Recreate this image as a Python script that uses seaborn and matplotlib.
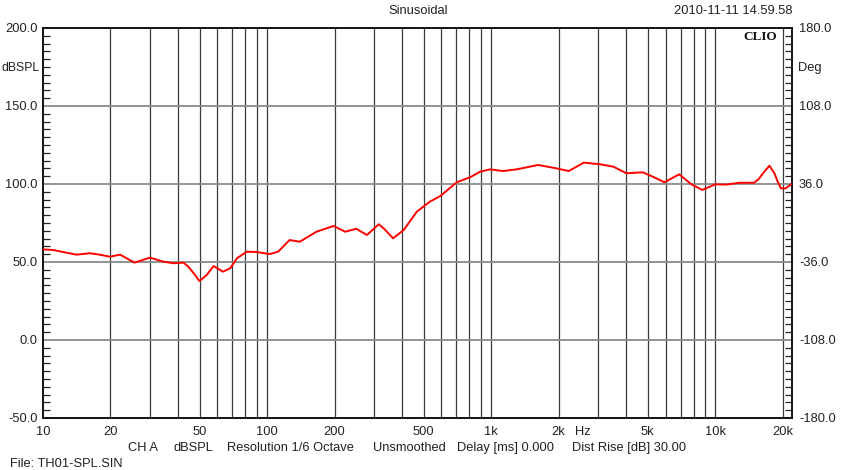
import numpy as np
import pandas as pd
import matplotlib
matplotlib.use("Agg")
import matplotlib.pyplot as plt
from matplotlib.ticker import FixedLocator, NullFormatter
import seaborn as sns

freq_hz = [10, 11.1, 12.3, 14.1, 16.2, 17.9, 19.9, 22.1, 23.2, 25.6, 30.0, 34.5, 38.2,
           42.4, 44.5, 47.2, 49.9, 53.8, 57.7, 63.5, 68.5, 73.4, 81.1, 89.7, 103, 112, 126,
           140, 166, 198, 223, 250, 279, 315, 331, 365, 407, 466, 533, 593, 702, 805,
           893, 990, 1130, 1300, 1620, 1960, 2220, 2590, 3080, 3510, 4010, 4750, 5260,
           5930, 6900, 7830, 8750, 10000, 11220, 12800, 14880, 15600, 16340, 17440, 18360,
           19000, 19640, 20600, 21800]
spl_db = [58.1, 57.7, 56.4, 54.7, 55.6, 54.7, 53.4, 54.7, 53.0, 49.6, 52.8, 50.2, 49.2,
          49.6, 47.0, 42.5, 37.8, 41.7, 47.4, 43.8, 46.0, 52.4, 56.6, 56.4, 55.1, 56.6, 64.1,
          63.0, 69.4, 73.1, 69.4, 71.3, 67.3, 74.2, 71.6, 65.2, 70.5, 82.3, 88.7, 92.3,
          101.1, 104.3, 107.9, 109.4, 108.3, 109.4, 112.2, 110.0, 108.3, 113.7, 112.6,
          111.1, 106.9, 107.5, 104.7, 101.1, 106.2, 99.8, 96.2, 99.8, 99.6, 100.8,
          100.8, 103.0, 106.9, 111.7, 106.9, 101.5, 97.2, 97.2, 99.8]

x_ticks = [10, 20, 50, 100, 200, 500, 1000, 2000, 5000, 10000, 20000]
x_tick_labels = ["10", "20", "50", "100", "200", "500", "1k", "2k", "5k", "10k", "20k"]
grid_freqs = [m * d for d in [10, 100, 1000, 10000] for m in range(1, 10) if 20 <= m * d <= 20000]
left_ticks = [-50, 0, 50, 100, 150, 200]
right_ticks = [-180, -108, -36, 36, 108, 180]
footer_items = ["CH A", "dBSPL", "Resolution 1/6 Octave", "Unsmoothed",
                "Delay [ms] 0.000", "Dist Rise [dB] 30.00"]
footer_x = [128, 174, 227, 373, 457, 572]

df = pd.DataFrame({"freq": freq_hz, "spl": spl_db})

sns.set_style("white")
plt.rcParams["font.family"] = ["Liberation Sans", "DejaVu Sans"]

W, H = 858, 470
fig = plt.figure(figsize=(W / 100, H / 100), dpi=100)
L, R, T, B = 43, 792, 28, 418
ax = fig.add_axes([L / W, 1 - B / H, (R - L) / W, (B - T) / H])

ax.set_xscale("log")
ax.set_xlim(10, 22000)
ax.set_ylim(-50, 200)

# grid
for f in grid_freqs:
    ax.axvline(f, color="#3a3a3a", lw=0.9, zorder=1)
for v in left_ticks[1:-1]:
    ax.axhline(v, color="#8a8a8a", lw=1.3, zorder=1)

sns.lineplot(data=df, x="freq", y="spl", ax=ax, color="#ff0000", lw=1.4, zorder=3)

txt = "#222222"
fs = 9.3
ax.set_xlabel("")
ax.set_ylabel("")
ax.set_xticks(x_ticks)
ax.set_xticklabels(x_tick_labels)
ax.xaxis.set_minor_locator(FixedLocator([]))
ax.tick_params(axis="x", which="both", length=0, pad=6, labelsize=fs, labelcolor=txt)

ax.set_yticks(left_ticks)
ax.set_yticklabels([f"{v:.1f}" for v in left_ticks])
ax.yaxis.set_minor_locator(FixedLocator(np.arange(-50, 201, 5)))
ax.tick_params(axis="y", which="major", direction="in", length=0, pad=4,
               labelsize=fs, labelcolor=txt)
ax.tick_params(axis="y", which="minor", direction="in", length=5, width=0.9, color="#222")

for s in ax.spines.values():
    s.set_color("#111111")
    s.set_linewidth(1.4)
    s.set_visible(True)

ax2 = ax.twinx()
ax2.set_ylim(-180, 180)
ax2.set_yticks(right_ticks)
ax2.set_yticklabels([f"{v:.1f}" for v in right_ticks])
ax2.yaxis.set_minor_locator(FixedLocator(np.arange(-180, 181, 7.2)))
ax2.yaxis.set_minor_formatter(NullFormatter())
ax2.tick_params(axis="y", which="major", direction="in", length=0, pad=5,
                labelsize=fs, labelcolor=txt)
ax2.tick_params(axis="y", which="minor", direction="in", length=5, width=0.9, color="#222")
for s in ax2.spines.values():
    s.set_visible(False)

# annotations
def px(x, y, s, **kw):
    fig.text(x / W, 1 - y / H, s, fontsize=kw.pop("fontsize", fs), color=kw.pop("color", txt), **kw)

px(418, 11, "Sinusoidal", ha="center", va="center")
px(792, 11, "2010-11-11 14.59.58", ha="right", va="center")
px(777, 37, "CLIO", ha="right", va="center", fontsize=9.5, fontweight="bold",
   family="Liberation Serif", color="#111111")
px(1, 68, "dBSPL", ha="left", va="center", fontsize=8.8)
px(798, 68, "Deg", ha="left", va="center")
px(583, 432, "Hz", ha="center", va="center")
for xx, item in zip(footer_x, footer_items):
    px(xx, 448, item, ha="left", va="center")
px(10, 464, "File: TH01-SPL.SIN", ha="left", va="center")

fig.savefig("out.png", dpi=100, facecolor="white")
